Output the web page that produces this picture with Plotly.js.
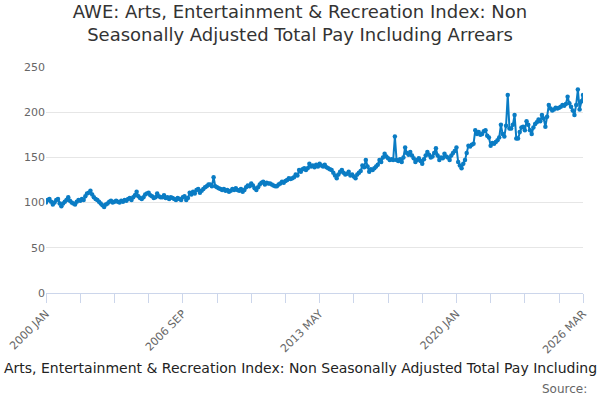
<!DOCTYPE html>
<html>
<head>
<meta charset="utf-8">
<script src="https://cdn.plot.ly/plotly-3.0.1.min.js"></script>
<style>html,body{margin:0;padding:0;background:#fff}#chart{width:600px;height:400px}</style>
</head>
<body>
<div id="chart"></div>
<script>
// Monthly index values, 2000 JAN .. 2026 MAR
const v2000 = [100,103,104,101,98,100,103,104,99,96,99,101];
const v2001 = [103,106,102,100,99,98,101,103,102,104,103,107];
const v2002 = [110,111,113,109,106,104,103,101,99,97,95,98];
const v2003 = [99,101,102,100,101,102,101,100,102,101,103,102];
const v2004 = [104,105,103,106,108,112,107,105,104,106,109,110];
const v2005 = [111,108,107,105,106,110,107,106,106,108,105,106];
const v2006 = [104,106,105,104,103,105,104,103,106,107,103,105];
const v2007 = [111,109,112,110,114,115,111,113,115,117,118,120];
const v2008 = [120,118,128,118,117,116,115,114,115,113,114,112];
const v2009 = [113,115,114,116,114,113,115,112,114,117,119,118];
const v2010 = [121,119,116,114,117,120,122,123,120,122,121,121];
const v2011 = [120,119,118,118,120,121,123,122,124,125,127,126];
const v2012 = [127,128,131,130,136,134,137,138,136,138,143,140];
const v2013 = [141,139,142,140,143,141,140,142,139,138,137,136];
const v2014 = [133,130,127,131,134,136,133,131,132,134,130,131];
const v2015 = [129,127,131,133,135,141,139,147,140,134,137,136];
const v2016 = [138,140,142,147,145,150,154,151,149,147,148,147];
const v2017 = [173,147,146,148,145,150,161,155,153,156,152,149];
const v2018 = [145,147,149,146,143,148,152,156,153,150,151,155];
const v2019 = [160,152,147,150,149,154,151,150,147,152,155,157];
const v2020 = [161,145,141,138,143,147,155,163,162,164,165,180];
const v2021 = [176,178,175,176,179,180,174,172,163,166,165,167];
const v2022 = [169,172,186,176,173,185,219,182,182,186,197,171];
const v2023 = [171,178,183,184,180,190,186,180,176,183,187,189];
const v2024 = [192,190,197,193,184,195,208,204,202,203,205,204];
const v2025 = [205,206,208,207,209,217,210,206,202,197,208,225];
const v2026 = [203,212,219];

const monthNames = ['JAN','FEB','MAR','APR','MAY','JUN','JUL','AUG','SEP','OCT','NOV','DEC'];
const labelledTicks = ['2000 JAN','2006 SEP','2013 MAY','2020 JAN','2026 MAR'];

const values = [].concat(v2000,v2001,v2002,v2003,v2004,v2005,v2006,v2007,v2008,v2009,
  v2010,v2011,v2012,v2013,v2014,v2015,v2016,v2017,v2018,v2019,v2020,v2021,v2022,
  v2023,v2024,v2025,v2026);
const months = values.map((_, i) => (2000 + Math.floor(i / 12)) + ' ' + monthNames[i % 12]);
const xs = values.map((_, i) => i);

// ticks every 20 months plus the last month, label only a few
const tickvals = [];
for (let i = 0; i < values.length; i += 20) tickvals.push(i);
tickvals.push(values.length - 1);
const ticktext = tickvals.map(i => labelledTicks.includes(months[i]) ? months[i] : '');

const trace = {
  x: xs,
  y: values,
  text: months,
  type: 'scatter',
  mode: 'lines+markers',
  line: { color: '#0a7cc4', width: 2 },
  marker: { color: '#0a7cc4', size: 4.5 },
  hoverinfo: 'text+y'
};

const layout = {
  width: 600,
  height: 400,
  margin: { l: 46, r: 17, t: 67, b: 107 },
  paper_bgcolor: '#fff',
  plot_bgcolor: '#fff',
  font: { family: 'DejaVu Sans, sans-serif', color: '#666', size: 11 },
  title: {
    text: 'AWE: Arts, Entertainment & Recreation Index: Non<br>Seasonally Adjusted Total Pay Including Arrears',
    font: { size: 18, color: '#333' },
    x: 0.5, xanchor: 'center', y: 0.955, yanchor: 'top'
  },
  xaxis: {
    range: [0, values.length - 1],
    tickvals: tickvals,
    ticktext: ticktext,
    tickangle: -45,
    ticks: 'outside',
    ticklen: 9,
    tickcolor: '#ccd6eb',
    showline: true,
    linecolor: '#ccd6eb',
    showgrid: false,
    zeroline: false,
    tickfont: { size: 11, color: '#666' }
  },
  yaxis: {
    range: [0, 250],
    dtick: 50,
    gridcolor: '#e6e6e6',
    zeroline: false,
    showline: false,
    ticks: '',
    tickfont: { size: 11, color: '#666' }
  },
  showlegend: false,
  annotations: [
    {
      text: 'Arts, Entertainment & Recreation Index: Non Seasonally Adjusted Total Pay Including',
      xref: 'paper', yref: 'paper',
      x: (599 - 46) / 537, y: -0.33,
      xanchor: 'right', yanchor: 'middle',
      showarrow: false,
      font: { size: 14, color: '#222' }
    },
    {
      text: 'Source:',
      xref: 'paper', yref: 'paper',
      x: (589 - 46) / 537, y: -0.425,
      xanchor: 'right', yanchor: 'middle',
      showarrow: false,
      font: { size: 12, color: '#666' }
    }
  ]
};

Plotly.newPlot('chart', [trace], layout, { staticPlot: true });
</script>
</body>
</html>
